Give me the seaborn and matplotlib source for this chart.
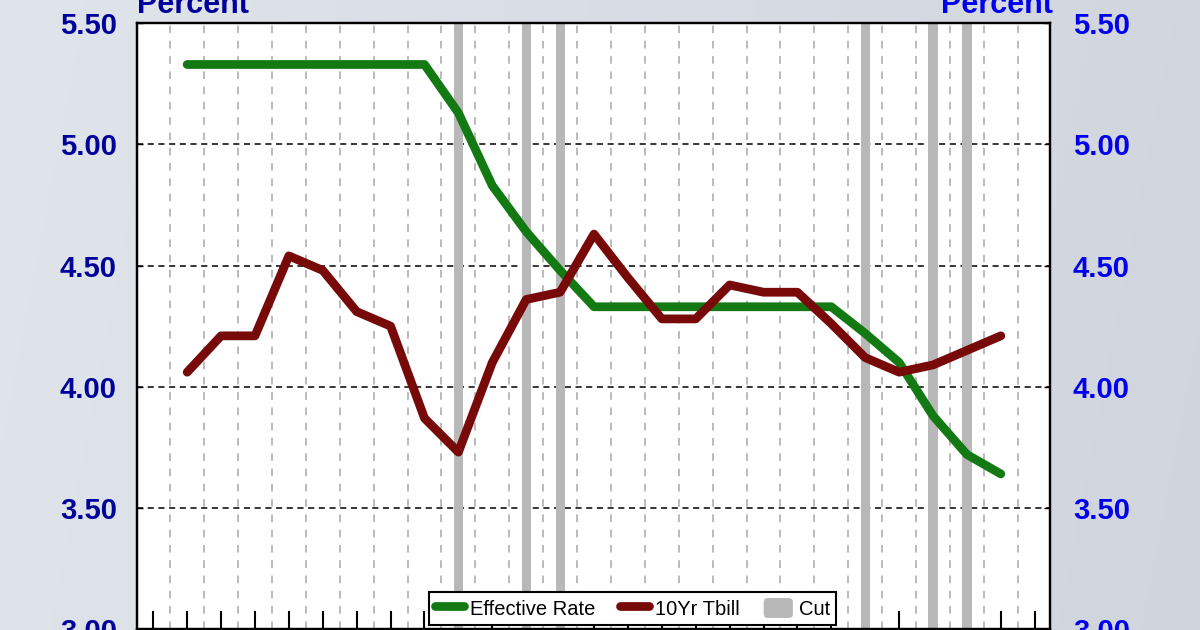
import numpy as np
import pandas as pd
import matplotlib
matplotlib.use("Agg")
import matplotlib.pyplot as plt
import seaborn as sns
from matplotlib.lines import Line2D
from matplotlib.patches import Patch, FancyBboxPatch
from matplotlib.legend_handler import HandlerPatch

# ---------------- data ----------------
periods = list(range(1, 26))
effective_rate = [5.33, 5.33, 5.33, 5.33, 5.33, 5.33, 5.33, 5.33,
                  5.13, 4.83, 4.64, 4.48,
                  4.33, 4.33, 4.33, 4.33, 4.33, 4.33, 4.33, 4.33,
                  4.22, 4.10, 3.88, 3.72, 3.64]
tbill_10yr = [4.06, 4.21, 4.21, 4.54, 4.48, 4.31, 4.25, 3.87, 3.73, 4.10,
              4.36, 4.39, 4.63, 4.45, 4.28, 4.28, 4.42, 4.39, 4.39, 4.26,
              4.12, 4.06, 4.09, 4.15, 4.21]
cut = [0, 0, 0, 0, 0, 0, 0, 0, 1, 0, 1, 1, 0, 0, 0, 0, 0, 0, 0, 0,
       1, 0, 1, 1, 0]
series_names = ["Effective Rate", "10Yr Tbill", "Cut"]
y_ticks = [3.00, 3.50, 4.00, 4.50, 5.00, 5.50]
axis_title = "Percent"

# ---------------- style ----------------
plt.rcParams["font.family"] = ["Liberation Sans", "DejaVu Sans"]
GREEN = "#137a13"
RED = "#780909"
GRAY = "#b8b8b8"
NAVY = "#00009a"
BLUE = "#0000ee"

fig = plt.figure(figsize=(12, 6.3), dpi=100)

# background gradient
bg = fig.add_axes([0, 0, 1, 1], zorder=-10)
xs = np.linspace(0, 1, 300)
ys = np.linspace(0, 1, 200)
X, Y = np.meshgrid(xs, ys)
left_c = np.array([224, 228, 235]) / 255
right_c = np.array([205, 210, 218]) / 255
t = np.clip(0.75 * X + 0.25 * (1 - Y) * 0.3, 0, 1)[..., None]
img = left_c * (1 - t) + right_c * t
bg.imshow(img, aspect="auto", extent=[0, 1, 0, 1], origin="lower")
bg.axis("off")

ax = fig.add_axes([137 / 1200, 1 / 630, (1050 - 137) / 1200, (629 - 23.3) / 630])
ax.set_facecolor("white")
ax.set_axisbelow(True)

df = pd.DataFrame({
    "period": periods * 2,
    "value": effective_rate + tbill_10yr,
    "series": [series_names[0]] * len(periods) + [series_names[1]] * len(periods),
})

# cut bars
cut_x = [p for p, c in zip(periods, cut) if c]
ax.bar(cut_x, [y_ticks[-1] - y_ticks[0]] * len(cut_x), bottom=y_ticks[0],
       width=0.27, color=GRAY, zorder=1.5, linewidth=0)

sns.lineplot(data=df, x="period", y="value", hue="series",
             palette={series_names[0]: GREEN, series_names[1]: RED},
             linewidth=6.3, ax=ax, legend=False, zorder=3,
             solid_capstyle="round", solid_joinstyle="round")

ax.set_xlim(-0.48, 26.45)
ax.set_ylim(y_ticks[0], y_ticks[-1])
ax.set_xlabel("")
ax.set_ylabel("")

ax.set_xticks(np.arange(0, 27))
ax.set_xticks(np.arange(0.5, 26, 1.0), minor=True)
ax.tick_params(axis="x", which="major", direction="in", length=13, width=1.5,
               color="black", labelbottom=False)
ax.tick_params(axis="x", which="minor", length=0)
ax.grid(which="minor", axis="x", color="#a8a8a8", linestyle=(0, (5, 5)), linewidth=1.1)
ax.grid(which="major", axis="x", visible=False)

ax.set_yticks(y_ticks)
ax.set_yticklabels([f"{v:.2f}" for v in y_ticks])
ax.tick_params(axis="y", direction="in", length=4, width=1, pad=14.5,
               labelsize=21, labelcolor=NAVY)
for lab in ax.get_yticklabels():
    lab.set_fontweight("bold")
ax.grid(which="major", axis="y", color="black", linestyle=(0, (4, 3)), linewidth=1.1)

for s in ax.spines.values():
    s.set_color("black")
    s.set_linewidth(1.6)

ax2 = ax.twinx()
ax2.set_ylim(y_ticks[0], y_ticks[-1])
ax2.set_yticks(y_ticks)
ax2.set_yticklabels([f"{v:.2f}" for v in y_ticks])
ax2.tick_params(axis="y", direction="in", length=4, width=1, pad=16.5,
                labelsize=21, labelcolor=BLUE)
for lab in ax2.get_yticklabels():
    lab.set_fontweight("bold")
for s in ax2.spines.values():
    s.set_linewidth(1.6)

# Percent titles
fig.text(137 / 1200, 1 - 13 / 630, axis_title, ha="left", va="baseline",
         fontsize=22, fontweight="bold", color=NAVY)
fig.text(1053 / 1200, 1 - 13 / 630, axis_title, ha="right", va="baseline",
         fontsize=22, fontweight="bold", color=BLUE)


# legend
def round_patch(legend, orig_handle, xdescent, ydescent, width, height, fontsize):
    return FancyBboxPatch((-xdescent + 3, -ydescent + 3), width - 6, height - 6,
                          boxstyle="round,pad=3")


handles = [
    Line2D([], [], color=GREEN, linewidth=6.3, solid_capstyle="round"),
    Line2D([], [], color=RED, linewidth=6.3, solid_capstyle="round"),
    Patch(facecolor=GRAY, edgecolor="none"),
]
leg = ax2.legend(handles, series_names, loc="center", bbox_to_anchor=(0.5427, 0.034),
                 ncol=3, fontsize=14.5, frameon=True, fancybox=False,
                 handlelength=1.45, handleheight=1.15, handletextpad=0.3,
                 columnspacing=1.2, borderpad=0.3, borderaxespad=0,
                 handler_map={Patch: HandlerPatch(patch_func=round_patch)})
leg.get_frame().set_edgecolor("black")
leg.get_frame().set_linewidth(1.5)
leg.get_frame().set_facecolor("white")
leg.get_frame().set_alpha(1)
leg.set_zorder(10)

fig.savefig("out.png", dpi=100)
